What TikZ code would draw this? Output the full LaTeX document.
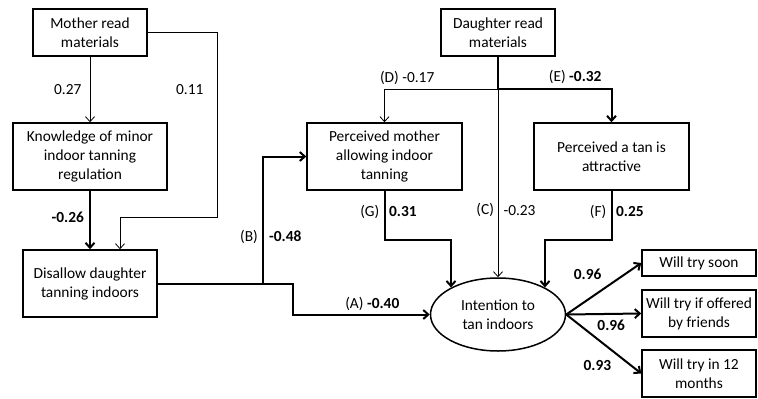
\documentclass[tikz,border=0pt]{standalone}
\usepackage{fontspec}
\setmainfont{Carlito}
\usetikzlibrary{shapes,arrows,arrows.meta}
\usetikzlibrary{positioning}
\tikzstyle{block} = [rectangle, draw, line width=1.5pt, align=center, inner sep=1pt]
\tikzstyle{latent} = [ellipse, draw, line width=1.5pt, align=center,
    minimum width=135pt, minimum height=73pt]
\tikzstyle{line} = [draw, line width=0.8pt, -{Straight Barb[length=5pt,width=9pt]}]
\tikzstyle{thickline} = [draw, line width=2pt, -{Straight Barb[length=5pt,width=9pt]}]
\tikzstyle{coef} = [font=\bfseries]

\begin{document}
\fontsize{15.4}{19}\selectfont
\begin{tikzpicture}[x=1pt, y=-1pt]
  \useasboundingbox (0,0) rectangle (758,399);
  % Place nodes
  \node [block, minimum width=114pt, minimum height=47pt] (mother) at (90,32.5) {Mother read\\materials};
  \node [block, minimum width=154pt, minimum height=67pt] (know) at (90,156.5) {Knowledge of minor\\indoor tanning\\regulation};
  \node [block, minimum width=134pt, minimum height=67pt] (disallow) at (90,283.5) {Disallow daughter\\tanning indoors};
  \node [block, minimum width=114pt, minimum height=47pt] (daughter) at (498,32.5) {Daughter read\\materials};
  \node [block, minimum width=155pt, minimum height=67pt] (permother) at (384.5,156.5) {Perceived mother\\allowing indoor\\tanning};
  \node [block, minimum width=155pt, minimum height=67pt] (attractive) at (611.5,156.5) {Perceived a tan is\\attractive};
  \node [latent] (intent) at (498,314.5) {Intention to\\tan indoors};
  \node [block, minimum width=114pt, minimum height=26pt] (soon) at (699,263) {Will try soon};
  \node [block, minimum width=114pt, minimum height=47pt] (offered) at (699,313.5) {Will try if offered\\by friends};
  \node [block, minimum width=114pt, minimum height=47pt] (months) at (699,373.5) {Will try in 12\\months};

  % Bend points
  \coordinate (m1) at (217,217);
  \coordinate (bj) at (263,283.5);
  \coordinate (a1) at (293,283.5);
  \coordinate (dj) at (498,89);
  \coordinate (g1) at (451,240);
  \coordinate (f1) at (545,240);

  % Draw edges
  \path [line] (mother) -- node [left=3pt] {0.27} (know);
  \path [line] (mother.east) -- (mother.east -| m1) -- node [pos=0.31, left=8pt] {0.11} (m1)
    -| ([xshift=30pt]disallow.north);
  \path [thickline] (know) -- node [pos=0.45, left=0pt, coef] {-0.26} (disallow);
  \path [thickline] (disallow.east) -- (bj) -- node [pos=0.37, left=-1pt] {(B)}
    node [pos=0.37, right=0pt, coef] {-0.48} (bj |- permother.west) -- (permother.west);
  \path [thickline] (bj) -- (a1) |- node [pos=0.79, above=-2pt] {(A) \textbf{-0.40}} (intent.west);
  \draw [line width=2pt] (daughter) -- (dj);
  \path [line] (dj) -| node [pos=0.4, above=-1pt] {(D) -0.17} (permother.north);
  \path [thickline] (dj) -| node [pos=0.34, above=-1pt] {(E) \textbf{-0.32}} (attractive.north);
  \path [line] (dj) -- node [pos=0.645, left=-1.5pt] {(C)}
    node [pos=0.645, right=0pt] {-0.23} (intent.north);
  \path [thickline] (permother.south) |- node [pos=0.21, left=-1pt] {(G)}
    node [pos=0.21, right=-1.5pt, coef] {0.31} (g1) -- (g1 |- intent.150);
  \path [thickline] (attractive.south) |- node [pos=0.21, left=-1pt] {(F)}
    node [pos=0.21, right=-1.5pt, coef] {0.25} (f1) -- (f1 |- intent.30);
  \path [thickline] (intent.east) -- node [pos=0.55, above left=0pt, coef] {0.96} (soon.west);
  \path [thickline] (intent.east) -- node [pos=0.6, below, coef] {0.96} (offered.west);
  \path [thickline] (intent.east) -- node [pos=0.68, below left=0pt, coef] {0.93} (months.west);
\end{tikzpicture}
\end{document}
